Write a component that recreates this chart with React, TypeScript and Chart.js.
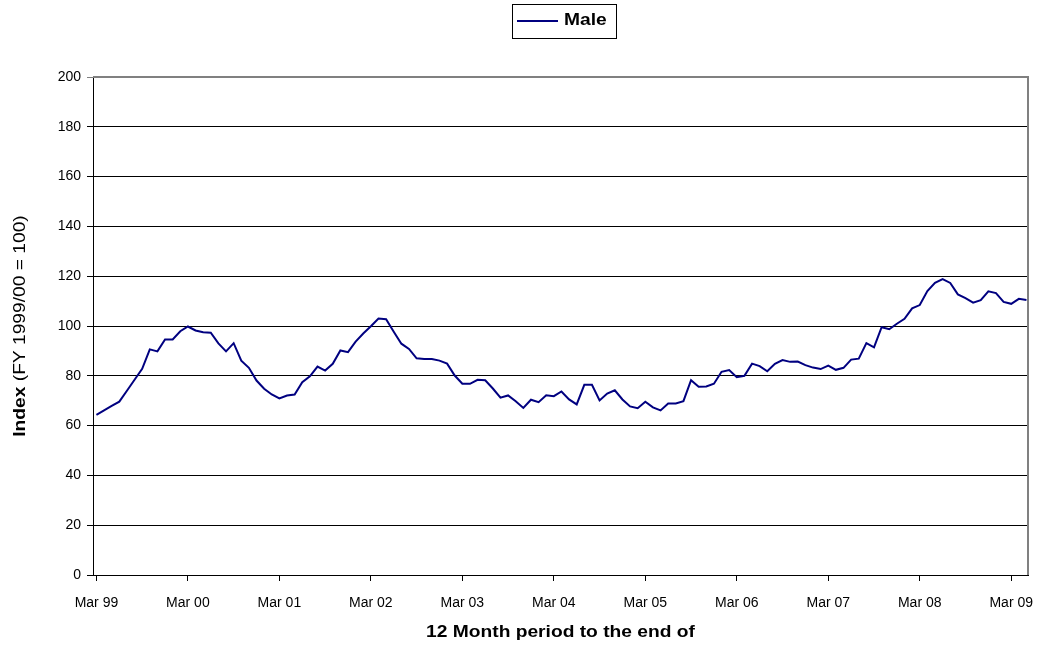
import React, { useEffect, useRef } from "react";
import { Chart, registerables } from "chart.js";

Chart.register(...registerables);

const seriesName = "Male";
const tickLabels = ["Mar 99", "Mar 00", "Mar 01", "Mar 02", "Mar 03", "Mar 04", "Mar 05", "Mar 06", "Mar 07", "Mar 08", "Mar 09"];
const maleValues = [
  64.3, 66.1, 67.9, 69.6, 74.0, 78.4, 82.8, 90.6, 89.8, 94.6, 94.6, 97.9,
  99.8, 98.2, 97.5, 97.3, 93.0, 89.8, 93.1, 86.1, 83.2, 78.1, 74.8, 72.5,
  70.9, 72.1, 72.5, 77.4, 79.8, 83.7, 82.1, 84.8, 90.2, 89.5, 93.7, 97.0,
  99.9, 103.0, 102.7, 97.7, 92.9, 90.8, 87.0, 86.7, 86.7, 86.1, 84.9, 80.1,
  76.8, 76.8, 78.4, 78.2, 74.9, 71.2, 72.1, 69.8, 67.1, 70.4, 69.4, 72.2,
  71.8, 73.7, 70.5, 68.5, 76.4, 76.4, 70.1, 72.9, 74.2, 70.5, 67.7, 67.0,
  69.6, 67.3, 66.1, 68.9, 68.9, 69.8, 78.2, 75.6, 75.7, 76.8, 81.6, 82.3,
  79.4, 80.0, 84.9, 83.9, 81.8, 84.8, 86.3, 85.6, 85.7, 84.3, 83.3, 82.7,
  84.1, 82.4, 83.2, 86.5, 86.9, 93.1, 91.4, 99.5, 98.7, 100.9, 102.9, 107.1,
  108.4, 114.0, 117.3, 118.8, 117.3, 112.7, 111.2, 109.4, 110.4, 113.9, 113.2, 109.7,
  108.9, 110.9, 110.4,
];
const xTitle = "12 Month period to the end of";
const yTitleBold = "Index";
const yTitleRest = " (FY 1999/00 = 100)";

const FONT = "'Liberation Sans', Arial, sans-serif";
const LINE_COLOR = "#000080";
const STRETCH = 1.2;

const decorPlugin = {
  id: "decor",
  afterDraw(chart: any) {
    const { ctx, chartArea } = chart;
    ctx.save();
    // plot border top/right
    ctx.strokeStyle = "#808080";
    ctx.lineWidth = 2;
    ctx.beginPath();
    ctx.moveTo(chartArea.left, chartArea.top);
    ctx.lineTo(chartArea.right, chartArea.top);
    ctx.lineTo(chartArea.right, chartArea.bottom);
    ctx.stroke();

    // legend box
    ctx.fillStyle = "#fff";
    ctx.strokeStyle = "#000";
    ctx.lineWidth = 1;
    ctx.fillRect(512, 4, 104, 34);
    ctx.strokeRect(512.5, 4.5, 104, 34);
    ctx.strokeStyle = LINE_COLOR;
    ctx.lineWidth = 2;
    ctx.beginPath();
    ctx.moveTo(517, 21);
    ctx.lineTo(558, 21);
    ctx.stroke();
    ctx.fillStyle = "#000";
    ctx.textBaseline = "middle";
    ctx.save();
    ctx.translate(564, 21);
    ctx.scale(STRETCH, 1);
    ctx.font = `bold 16px ${FONT}`;
    ctx.textAlign = "left";
    ctx.fillText(seriesName, 0, 0);
    ctx.restore();

    // x title
    ctx.save();
    ctx.translate((chartArea.left + chartArea.right) / 2, 633);
    ctx.scale(STRETCH, 1);
    ctx.font = `bold 16px ${FONT}`;
    ctx.textAlign = "center";
    ctx.fillText(xTitle, 0, 0);
    ctx.restore();

    // y title (rotated, mixed weight)
    ctx.translate(21, (chartArea.top + chartArea.bottom) / 2);
    ctx.rotate(-Math.PI / 2);
    ctx.scale(STRETCH, 1);
    ctx.font = `bold 16px ${FONT}`;
    const wBold = ctx.measureText(yTitleBold).width;
    ctx.font = `16px ${FONT}`;
    const wRest = ctx.measureText(yTitleRest).width;
    const start = -(wBold + wRest) / 2;
    ctx.textAlign = "left";
    ctx.font = `bold 16px ${FONT}`;
    ctx.fillText(yTitleBold, start, 0);
    ctx.font = `16px ${FONT}`;
    ctx.fillText(yTitleRest, start + wBold, 0);
    ctx.restore();
  },
};

export default function App() {
  const ref = useRef<HTMLCanvasElement | null>(null);
  useEffect(() => {
    if (!ref.current) return;
    const points = maleValues.map((v, i) => ({ x: i, y: v }));
    const chart = new Chart(ref.current, {
      type: "line",
      data: {
        datasets: [
          {
            label: seriesName,
            data: points,
            borderColor: LINE_COLOR,
            borderWidth: 2,
            pointRadius: 0,
            tension: 0,
            fill: false,
          },
        ],
      },
      options: {
        animation: false,
        responsive: false,
        devicePixelRatio: 1,
        layout: { padding: { top: 77, right: 14, left: 0, bottom: 0 } },
        plugins: { legend: { display: false }, tooltip: { enabled: false }, title: { display: false } },
        scales: {
          x: {
            type: "linear",
            min: -0.45,
            max: 122.2,
            afterBuildTicks: (scale: any) => {
              scale.ticks = tickLabels.map((_, i) => ({ value: i * 12 }));
            },
            afterFit: (scale: any) => {
              scale.height = 72;
              scale.paddingLeft = 0;
              scale.paddingRight = 0;
            },
            ticks: {
              autoSkip: false,
              maxRotation: 0,
              padding: 14,
              color: "#000",
              font: { family: FONT, size: 14 },
              callback: (_v: any, i: number) => tickLabels[i],
            },
            grid: { drawOnChartArea: false, drawTicks: true, tickLength: 6, color: "#000" },
            border: { color: "#000", width: 1 },
          },
          y: {
            min: 0,
            max: 200,
            afterFit: (scale: any) => {
              scale.width = 93;
              scale.paddingTop = 0;
              scale.paddingBottom = 0;
            },
            ticks: {
              stepSize: 20,
              padding: 6,
              color: "#000",
              font: { family: FONT, size: 14 },
            },
            grid: {
              color: (c: any) => (c.tick && c.tick.value === 200 ? "#808080" : "#000"),
              lineWidth: 1,
              tickLength: 6,
            },
            border: { color: "#000", width: 1 },
          },
        },
      },
      plugins: [decorPlugin],
    });
    return () => chart.destroy();
  }, []);
  return (
    <div style={{ position: "fixed", left: 0, top: 0, width: 1042, height: 647, background: "#fff" }}>
      <canvas ref={ref} width={1042} height={647} />
    </div>
  );
}
